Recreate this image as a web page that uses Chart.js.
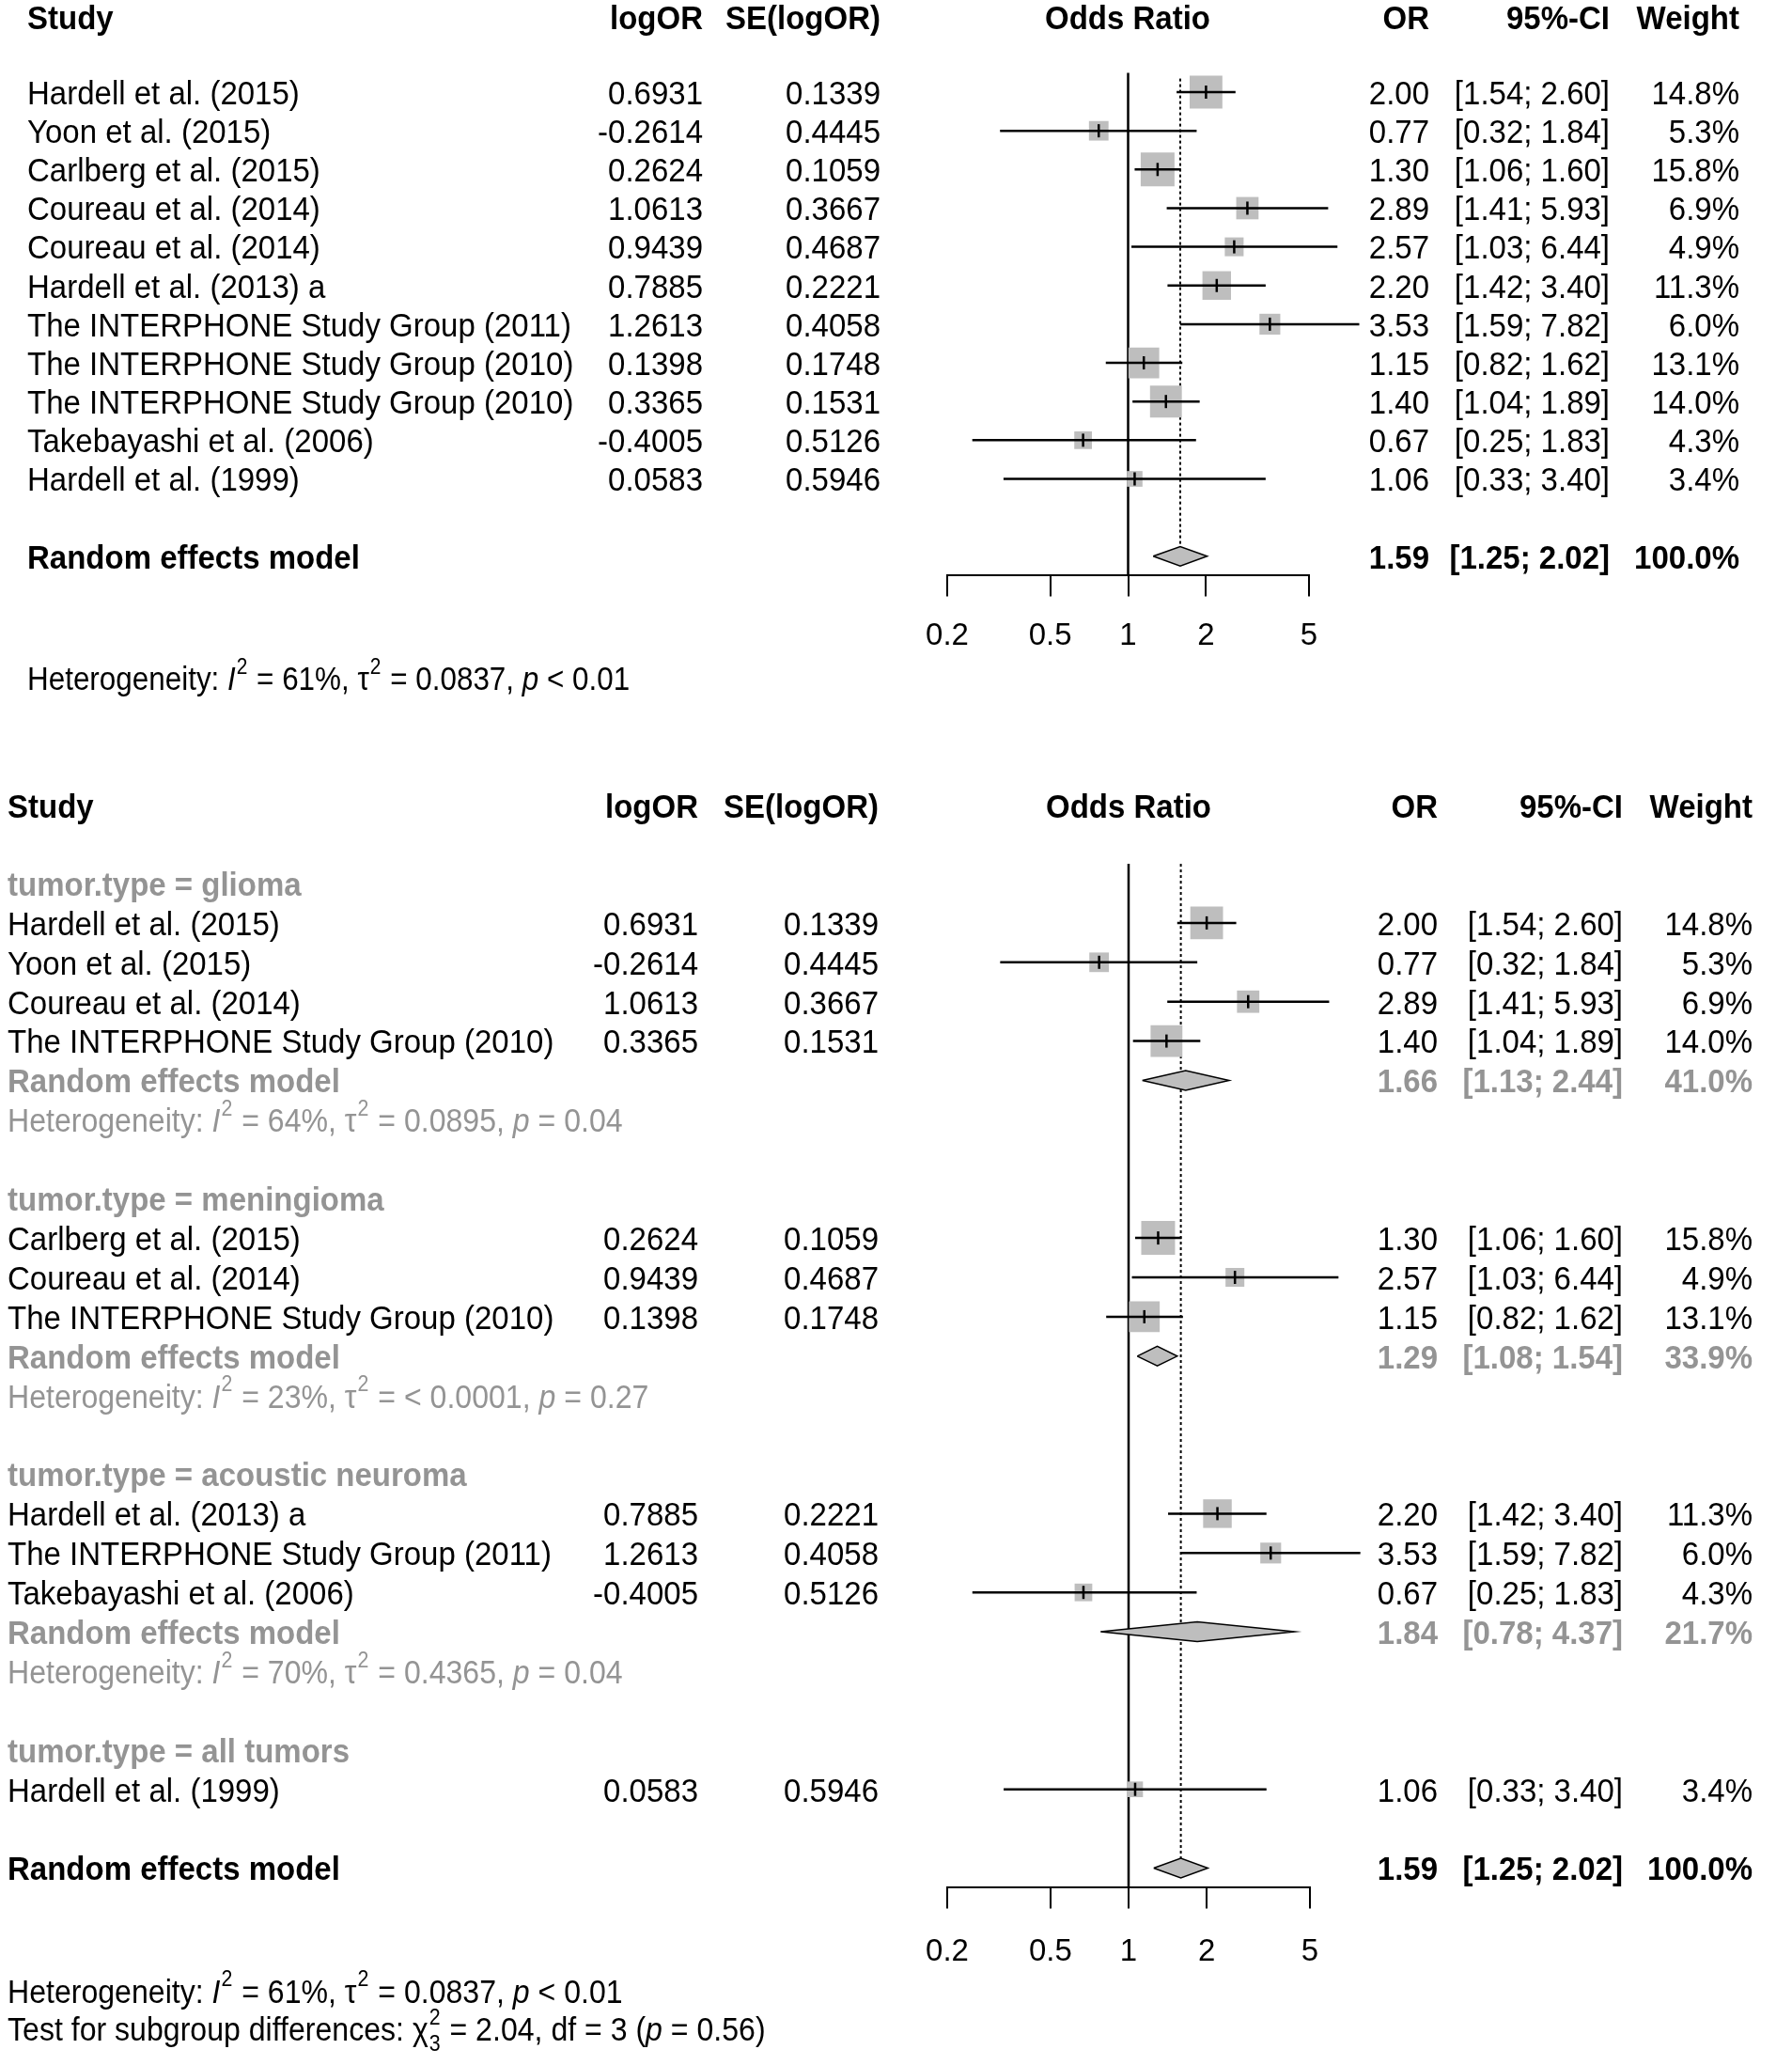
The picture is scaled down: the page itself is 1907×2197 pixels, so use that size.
<!DOCTYPE html>
<html>
<head>
<meta charset="utf-8">
<script src="https://cdn.jsdelivr.net/npm/chart.js@4.4.1/dist/chart.umd.min.js"></script>
<style>
  html, body { margin: 0; padding: 0; background: #fff; }
  #wrap { position: relative; width: 1907px; height: 2197px; }
  canvas { position: absolute; left: 0; }
</style>
</head>
<body>
<div id="wrap">
  <canvas id="topChart" width="1907" height="780" style="top:0px"></canvas>
  <canvas id="bottomChart" width="1907" height="1417" style="top:780px"></canvas>
</div>
<script>
// study data
const studies = [
  "Hardell et al. (2015)", "Yoon et al. (2015)", "Carlberg et al. (2015)",
  "Coureau et al. (2014)", "Coureau et al. (2014)", "Hardell et al. (2013) a",
  "The INTERPHONE Study Group (2011)", "The INTERPHONE Study Group (2010)",
  "The INTERPHONE Study Group (2010)", "Takebayashi et al. (2006)", "Hardell et al. (1999)"
];
const logOR = [0.6931, -0.2614, 0.2624, 1.0613, 0.9439, 0.7885, 1.2613, 0.1398, 0.3365, -0.4005, 0.0583];
const seLogOR = [0.1339, 0.4445, 0.1059, 0.3667, 0.4687, 0.2221, 0.4058, 0.1748, 0.1531, 0.5126, 0.5946];
const oddsRatio = [2.00, 0.77, 1.30, 2.89, 2.57, 2.20, 3.53, 1.15, 1.40, 0.67, 1.06];
const ciLower = [1.54, 0.32, 1.06, 1.41, 1.03, 1.42, 1.59, 0.82, 1.04, 0.25, 0.33];
const ciUpper = [2.60, 1.84, 1.60, 5.93, 6.44, 3.40, 7.82, 1.62, 1.89, 1.83, 3.40];
const weights = [14.8, 5.3, 15.8, 6.9, 4.9, 11.3, 6.0, 13.1, 14.0, 4.3, 3.4];
const tumorType = ["glioma", "glioma", "meningioma", "glioma", "meningioma", "acoustic neuroma",
  "acoustic neuroma", "meningioma", "glioma", "acoustic neuroma", "all tumors"];

// subgroup results
const groupNames = ["glioma", "meningioma", "acoustic neuroma", "all tumors"];
const groupOR = [1.66, 1.29, 1.84, null];
const groupLower = [1.13, 1.08, 0.78, null];
const groupUpper = [2.44, 1.54, 4.37, null];
const groupWeight = [41.0, 33.9, 21.7, null];
const groupI2 = ["64%", "23%", "70%", null];
const groupTau2 = ["0.0895", "< 0.0001", "0.4365", null];
const groupP = ["= 0.04", "= 0.27", "= 0.04", null];

// overall random effects model
const overall = [1.59, 1.25, 2.02];
const overallHet = ["61%", "0.0837", "< 0.01"];
const subgroupTest = ["2.04", "3", "0.56"];

const xTicks = [0.2, 0.5, 1, 2, 5];

const FONT = '"Liberation Sans", Arial, sans-serif';
const FS = 33;
const SUP = 22;
const STRETCH = 1.08;
const TEXT_DY = 3;
const GRAY = "#949494";
const BOXGRAY = "#bebebe";
const AXIS_H = 100;
const DH = 0.25;

const topLayout = {
  canvasH: 780, left: 1008, right: 1393, rowTop: 98, rowH: 41.15, yMin: -0.5, yMax: 12.5,
  studyX: 29, logX: 748, seX: 937, midX: 1200, orX: 1521, ciX: 1713, wX: 1851,
  headerRow: -1.94, labelPad: 23, dottedStart: -0.35, noteScale: 0.952
};
const bottomLayout = {
  canvasH: 1417, left: 1008, right: 1394, rowTop: 160, rowH: 41.9, yMin: -0.5, yMax: 25.5,
  studyX: 8, logX: 743, seX: 935, midX: 1201, orX: 1530, ciX: 1727, wX: 1865,
  headerRow: -1.98, labelPad: 27, dottedStart: -0.5, noteScale: 0.972
};

function hetParts(i2, tau2, p) {
  return [
    { t: "Heterogeneity: " }, { t: "I", it: true }, { sup: "2" },
    { t: " = " + i2 + ", \u03c4" }, { sup: "2" }, { t: " = " + tau2 + ", " },
    { t: "p", it: true }, { t: " " + p }
  ];
}

function fmtCI(lo, hi) {
  return "[" + lo.toFixed(2) + "; " + hi.toFixed(2) + "]";
}

function buildTopRows() {
  const rows = studies.map((s, i) => ({ kind: "study", i: i, row: i }));
  rows.push({ kind: "pooled", row: 12, label: "Random effects model", or: overall[0], lo: overall[1], hi: overall[2], w: 100, color: "#000" });
  rows.push({ kind: "note", row: 15.14, parts: hetParts(overallHet[0], overallHet[1], overallHet[2]), color: "#000" });
  return rows;
}

function buildBottomRows() {
  const rows = [];
  let r = 0;
  groupNames.forEach((g, k) => {
    rows.push({ kind: "group", row: r++, label: "tumor.type = " + g });
    studies.forEach((s, i) => {
      if (tumorType[i] === g) rows.push({ kind: "study", i: i, row: r++ });
    });
    if (groupOR[k] !== null) {
      rows.push({ kind: "pooled", row: r++, label: "Random effects model", or: groupOR[k], lo: groupLower[k], hi: groupUpper[k], w: groupWeight[k], color: GRAY });
      rows.push({ kind: "note", row: r++, parts: hetParts(groupI2[k], groupTau2[k], groupP[k]), color: GRAY });
    }
    r++;
  });
  rows.push({ kind: "pooled", row: r, label: "Random effects model", or: overall[0], lo: overall[1], hi: overall[2], w: 100, color: "#000" });
  rows.push({ kind: "note", row: 28.11, parts: hetParts(overallHet[0], overallHet[1], overallHet[2]), color: "#000" });
  rows.push({ kind: "note", row: 29.07, color: "#000", parts: [
    { t: "Test for subgroup differences: \u03c7" }, { sup: "2", sub: "3" },
    { t: " = " + subgroupTest[0] + ", df = " + subgroupTest[1] + " (" }, { t: "p", it: true },
    { t: " = " + subgroupTest[2] + ")" }
  ] });
  return rows;
}

function setFont(ctx, bold, italic, size) {
  ctx.font = (italic ? "italic " : "") + (bold ? "bold " : "") + (size || FS) + "px " + FONT;
}

// text slightly stretched vertically, like the R device output
function put(ctx, s, x, y) {
  ctx.save();
  ctx.translate(x, y + TEXT_DY);
  ctx.scale(1, STRETCH);
  ctx.fillText(s, 0, 0);
  ctx.restore();
}

function txt(ctx, s, x, y, align, bold, color) {
  setFont(ctx, bold, false);
  ctx.fillStyle = color;
  ctx.textAlign = align;
  ctx.textBaseline = "middle";
  put(ctx, s, x, y);
}

// mixed text (italic, super/subscripts), squeezed a little in x
function rich(ctx, parts, x, y, color, sx) {
  ctx.save();
  ctx.translate(x, 0);
  ctx.scale(sx, 1);
  let cx = 0;
  ctx.fillStyle = color;
  ctx.textAlign = "left";
  ctx.textBaseline = "middle";
  parts.forEach(p => {
    if (p.sup !== undefined || p.sub !== undefined) {
      setFont(ctx, false, false, SUP);
      let w = 0;
      if (p.sup) { put(ctx, p.sup, cx + 1, y - 14); w = Math.max(w, ctx.measureText(p.sup).width); }
      if (p.sub) { put(ctx, p.sub, cx + 1, y + 14); w = Math.max(w, ctx.measureText(p.sub).width); }
      cx += w + 2;
    } else {
      setFont(ctx, false, !!p.it);
      put(ctx, p.t, cx, y);
      cx += ctx.measureText(p.t).width;
    }
  });
  ctx.restore();
}

function makeTextPlugin(L, rows) {
  return {
    id: "forestText",
    afterDraw(chart) {
      const ctx = chart.ctx;
      const ys = chart.scales.y;
      ctx.save();
      const hy = ys.getPixelForValue(L.headerRow);
      txt(ctx, "Study", L.studyX, hy, "left", true, "#000");
      txt(ctx, "logOR", L.logX, hy, "right", true, "#000");
      txt(ctx, "SE(logOR)", L.seX, hy, "right", true, "#000");
      txt(ctx, "Odds Ratio", L.midX, hy, "center", true, "#000");
      txt(ctx, "OR", L.orX, hy, "right", true, "#000");
      txt(ctx, "95%-CI", L.ciX, hy, "right", true, "#000");
      txt(ctx, "Weight", L.wX, hy, "right", true, "#000");
      rows.forEach(it => {
        const y = ys.getPixelForValue(it.row);
        if (it.kind === "study") {
          const i = it.i;
          txt(ctx, studies[i], L.studyX, y, "left", false, "#000");
          txt(ctx, logOR[i].toFixed(4), L.logX, y, "right", false, "#000");
          txt(ctx, seLogOR[i].toFixed(4), L.seX, y, "right", false, "#000");
          txt(ctx, oddsRatio[i].toFixed(2), L.orX, y, "right", false, "#000");
          txt(ctx, fmtCI(ciLower[i], ciUpper[i]), L.ciX, y, "right", false, "#000");
          txt(ctx, weights[i].toFixed(1) + "%", L.wX, y, "right", false, "#000");
        } else if (it.kind === "group") {
          txt(ctx, it.label, L.studyX, y, "left", true, GRAY);
        } else if (it.kind === "pooled") {
          txt(ctx, it.label, L.studyX, y, "left", true, it.color);
          txt(ctx, it.or.toFixed(2), L.orX, y, "right", true, it.color);
          txt(ctx, fmtCI(it.lo, it.hi), L.ciX, y, "right", true, it.color);
          txt(ctx, it.w.toFixed(1) + "%", L.wX, y, "right", true, it.color);
        } else if (it.kind === "note") {
          rich(ctx, it.parts, L.studyX, y, it.color, L.noteScale);
        }
      });
      ctx.restore();
    }
  };
}

function makeForest(canvasId, L, rows) {
  const studyRows = rows.filter(r => r.kind === "study");
  const pooledRows = rows.filter(r => r.kind === "pooled");
  const lastPooled = pooledRows[pooledRows.length - 1];

  const ciData = [];
  studyRows.forEach(r => {
    ciData.push({ x: ciLower[r.i], y: r.row }, { x: ciUpper[r.i], y: r.row }, { x: null, y: null });
  });

  const datasets = [
    {
      label: "null line", order: 10, clip: false,
      data: [{ x: 1, y: L.yMin }, { x: 1, y: L.yMax }],
      borderColor: "#000", borderWidth: 2.5, pointRadius: 0, fill: false
    },
    {
      label: "pooled estimate", order: 9, clip: false,
      data: [{ x: lastPooled.or, y: L.dottedStart }, { x: lastPooled.or, y: lastPooled.row - DH }],
      borderColor: "#000", borderWidth: 2, borderDash: [3, 3], pointRadius: 0, fill: false
    },
    {
      label: "weights", order: 8, showLine: false, clip: false,
      data: studyRows.map(r => ({ x: oddsRatio[r.i], y: r.row })),
      pointStyle: "rect",
      pointRadius: studyRows.map(r => 6.4 * Math.sqrt(weights[r.i])),
      pointBackgroundColor: BOXGRAY, pointBorderWidth: 0, pointBorderColor: BOXGRAY
    },
    {
      label: "95% CI", order: 7, clip: false, spanGaps: false,
      data: ciData,
      borderColor: "#000", borderWidth: 2.5, pointRadius: 0, fill: false
    },
    {
      label: "estimate", order: 6, showLine: false, clip: false,
      data: studyRows.map(r => ({ x: oddsRatio[r.i], y: r.row })),
      pointStyle: "line", pointRotation: 90, pointRadius: 7,
      pointBorderColor: "#000", pointBorderWidth: 2.5
    }
  ];

  pooledRows.forEach(p => {
    datasets.push({
      label: "diamond", order: 5, clip: false,
      data: [
        { x: p.lo, y: p.row }, { x: p.or, y: p.row - DH }, { x: p.hi, y: p.row },
        { x: p.or, y: p.row + DH }, { x: p.lo, y: p.row }
      ],
      borderColor: "#000", borderWidth: 1.5, backgroundColor: BOXGRAY,
      fill: "shape", pointRadius: 0, tension: 0
    });
  });

  const plotTop = L.rowTop + L.yMin * L.rowH;
  const plotBottom = L.rowTop + L.yMax * L.rowH;

  return new Chart(document.getElementById(canvasId), {
    type: "line",
    data: { datasets: datasets },
    plugins: [makeTextPlugin(L, rows)],
    options: {
      responsive: false,
      animation: false,
      events: [],
      layout: {
        padding: { left: L.left, right: 1907 - L.right, top: plotTop, bottom: L.canvasH - plotBottom - AXIS_H }
      },
      plugins: { legend: { display: false }, tooltip: { enabled: false } },
      scales: {
        x: {
          type: "logarithmic", min: 0.2, max: 5, bounds: "data", position: "bottom",
          afterBuildTicks: axis => { axis.ticks = xTicks.map(v => ({ value: v })); },
          afterFit: axis => { axis.height = AXIS_H; },
          grid: { drawOnChartArea: false, drawTicks: true, tickLength: 22, color: "#000", lineWidth: 2 },
          border: { display: true, color: "#000", width: 2 },
          ticks: {
            autoSkip: false, maxRotation: 0, minRotation: 0, padding: L.labelPad,
            color: "#000", font: { family: FONT, size: FS },
            callback: v => String(v)
          }
        },
        y: {
          type: "linear", min: L.yMin, max: L.yMax, reverse: true, display: false, bounds: "data"
        }
      }
    }
  });
}

document.addEventListener("DOMContentLoaded", function () {
  makeForest("topChart", topLayout, buildTopRows());
  makeForest("bottomChart", bottomLayout, buildBottomRows());
});
</script>
</body>
</html>
